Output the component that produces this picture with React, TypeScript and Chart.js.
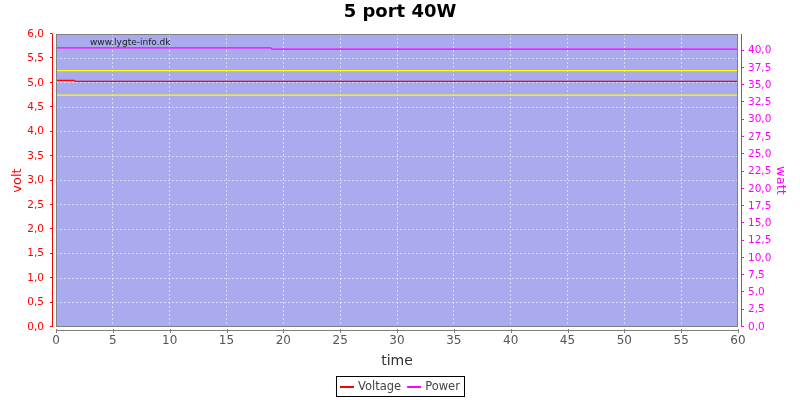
import React, { useEffect, useRef } from "react";
import { Chart, registerables } from "chart.js";

Chart.register(...registerables);

const FONT = "'DejaVu Sans', sans-serif";

const chartTitle = "5 port 40W";
const watermark = "www.lygte-info.dk";
const xAxisTitle = "time";
const leftAxisTitle = "volt";
const rightAxisTitle = "watt";

const voltTime = [0, 1.6, 1.7, 60];
const voltValues = [5.05, 5.05, 5.03, 5.03];
const powerTime = [0, 18.9, 19.0, 60];
const powerValues = [40.4, 40.4, 40.22, 40.22];
const limitTime = [0, 60];
const upperLimitValues = [5.25, 5.25];
const lowerLimitValues = [4.75, 4.75];

const seriesLabels = ["Voltage", "Power"];
const seriesColors = ["#ff0000", "#ff00ff"];
const limitColor = "#ffff00";

const fmt = (v: number) => v.toFixed(1).replace(".", ",");
const pts = (xs: number[], ys: number[]) => xs.map((x, i) => ({ x, y: ys[i] }));

const decor = {
  id: "decor",
  beforeDraw(chart: any) {
    const { ctx, chartArea: a } = chart;
    ctx.save();
    ctx.fillStyle = "#ffffff";
    ctx.fillRect(0, 0, chart.width, chart.height);
    ctx.fillStyle = "#aaaaee";
    ctx.fillRect(a.left, a.top, a.right - a.left, a.bottom - a.top);
    ctx.restore();
  },
  afterDraw(chart: any) {
    const { ctx, chartArea: a, scales } = chart;
    ctx.save();
    ctx.strokeStyle = "#808080";
    ctx.lineWidth = 1;
    ctx.strokeRect(a.left + 0.5, a.top + 0.5, a.right - a.left - 1, a.bottom - a.top - 1);

    const ly = scales.y;
    ctx.strokeStyle = "#ff0000";
    ctx.beginPath();
    ctx.moveTo(a.left - 3.5, a.top);
    ctx.lineTo(a.left - 3.5, a.bottom);
    ly.ticks.forEach((t: any) => {
      const py = Math.round(ly.getPixelForValue(t.value)) - 0.5;
      ctx.moveTo(a.left - 3.5, py);
      ctx.lineTo(a.left - 6, py);
    });
    ctx.stroke();

    const ry = scales.y2;
    ctx.strokeStyle = "#ff00ff";
    ctx.beginPath();
    ctx.moveTo(a.right + 3.5, a.top);
    ctx.lineTo(a.right + 3.5, a.bottom);
    ry.ticks.forEach((t: any) => {
      const py = Math.round(ry.getPixelForValue(t.value)) - 0.5;
      ctx.moveTo(a.right + 3.5, py);
      ctx.lineTo(a.right + 6, py);
    });
    ctx.stroke();

    const sx = scales.x;
    ctx.strokeStyle = "#808080";
    ctx.beginPath();
    ctx.moveTo(a.left, a.bottom + 3.5);
    ctx.lineTo(a.right, a.bottom + 3.5);
    sx.ticks.forEach((t: any) => {
      const px = Math.round(sx.getPixelForValue(t.value)) + 0.5;
      ctx.moveTo(px, a.bottom + 2);
      ctx.lineTo(px, a.bottom + 6);
    });
    ctx.stroke();

    ctx.fillStyle = "#222222";
    ctx.font = `9px ${FONT}`;
    ctx.textAlign = "left";
    ctx.textBaseline = "middle";
    ctx.fillText(watermark, a.left + 34, a.top + 8.5);

    const items = chart.data.datasets
      .filter((d: any) => d.inLegend)
      .map((d: any) => ({ label: d.label, color: d.borderColor }));
    ctx.font = `11.5px ${FONT}`;
    const lineW = 14, gap1 = 4, gap2 = 6, padL = 3.5, padR = 5;
    const widths = items.map((it: any) => lineW + gap1 + ctx.measureText(it.label).width);
    const total = widths.reduce((s: number, w: number) => s + w, 0) + gap2 * (items.length - 1) + padL + padR;
    const bx = Math.round(chart.width / 2 - total / 2) + 0.5;
    const by = 376.5, bh = 20;
    ctx.strokeStyle = "#000000";
    ctx.lineWidth = 1;
    ctx.strokeRect(bx, by, Math.round(total), bh);
    let cx = bx + padL;
    const cy = by + bh / 2;
    items.forEach((it: any, i: number) => {
      ctx.strokeStyle = it.color;
      ctx.lineWidth = 2;
      ctx.beginPath();
      ctx.moveTo(cx, cy + 0.5);
      ctx.lineTo(cx + lineW, cy + 0.5);
      ctx.stroke();
      ctx.fillStyle = "#444444";
      ctx.fillText(it.label, cx + lineW + gap1, cy + 0.5);
      cx += widths[i] + gap2;
    });
    ctx.restore();
  },
};

export default function App() {
  const ref = useRef<HTMLCanvasElement | null>(null);
  useEffect(() => {
    if (!ref.current) return;
    const gridColor = "rgba(255,255,255,0.55)";
    const chart = new Chart(ref.current, {
      type: "line",
      data: {
        datasets: [
          {
            label: "upper",
            data: pts(limitTime, upperLimitValues),
            borderColor: limitColor,
            borderWidth: 1.2,
            pointRadius: 0,
            yAxisID: "y",
          },
          {
            label: "lower",
            data: pts(limitTime, lowerLimitValues),
            borderColor: limitColor,
            borderWidth: 1.2,
            pointRadius: 0,
            yAxisID: "y",
          },
          {
            label: seriesLabels[0],
            inLegend: true,
            data: pts(voltTime, voltValues),
            borderColor: seriesColors[0],
            borderWidth: 1.2,
            pointRadius: 0,
            yAxisID: "y",
          },
          {
            label: seriesLabels[1],
            inLegend: true,
            data: pts(powerTime, powerValues),
            borderColor: seriesColors[1],
            borderWidth: 1.2,
            pointRadius: 0,
            yAxisID: "y2",
          },
        ] as any,
      },
      options: {
        animation: false,
        responsive: false,
        events: [],
        layout: { padding: 0 },
        plugins: {
          legend: { display: false },
          tooltip: { enabled: false },
          title: {
            display: true,
            text: chartTitle,
            color: "#000000",
            font: { family: FONT, size: 18, weight: "bold", lineHeight: 1.2 },
            padding: { top: 2, bottom: 10.4 },
          },
        },
        scales: {
          x: {
            type: "linear",
            min: 0,
            max: 60,
            ticks: {
              stepSize: 5,
              color: "#555555",
              font: { family: FONT, size: 12 },
              padding: 7,
              maxRotation: 0,
            },
            grid: { color: gridColor, drawTicks: false, lineWidth: 1 },
            border: { display: false, dash: [2, 2] },
            title: {
              display: true,
              text: xAxisTitle,
              color: "#333333",
              font: { family: FONT, size: 14 },
              padding: { top: 0, bottom: 30 },
            },
            afterFit: (s: any) => {
              s.height = 73;
            },
          },
          y: {
            type: "linear",
            position: "left",
            min: 0,
            max: 6,
            ticks: {
              stepSize: 0.5,
              color: "#ff0000",
              font: { family: FONT, size: 10.5 },
              padding: 12,
              callback: (v: any) => fmt(Number(v)),
            },
            grid: { color: gridColor, drawTicks: false, lineWidth: 1 },
            border: { display: false, dash: [2, 2] },
            title: {
              display: true,
              text: leftAxisTitle,
              color: "#ff0000",
              font: { family: FONT, size: 13 },
              padding: { top: 10.2, bottom: 0 },
            },
            afterFit: (s: any) => {
              s.width = 56;
            },
          },
          y2: {
            type: "linear",
            position: "right",
            min: 0,
            max: 42.4,
            ticks: {
              stepSize: 2.5,
              includeBounds: false,
              color: "#ff00ff",
              font: { family: FONT, size: 10.5 },
              padding: 10,
              callback: (v: any) => fmt(Number(v)),
            },
            grid: { display: false, drawOnChartArea: false, drawTicks: false },
            border: { display: false },
            title: {
              display: true,
              text: rightAxisTitle,
              color: "#ff00ff",
              font: { family: FONT, size: 13 },
              padding: { top: 11.9, bottom: 0 },
            },
            afterFit: (s: any) => {
              s.width = 62;
            },
          },
        },
      } as any,
      plugins: [decor],
    });
    return () => chart.destroy();
  }, []);
  return (
    <div style={{ position: "absolute", left: 0, top: 0, width: 800, height: 400 }}>
      <canvas ref={ref} width={800} height={400} style={{ display: "block" }} />
    </div>
  );
}
